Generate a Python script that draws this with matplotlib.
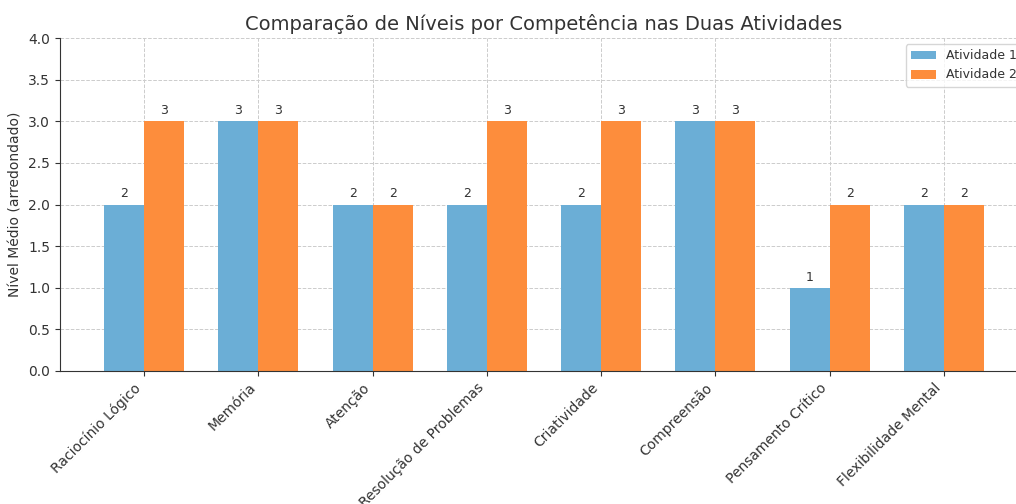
import numpy as np
import matplotlib
matplotlib.use('Agg')
import matplotlib.pyplot as plt

competencias = ['Raciocínio Lógico', 'Memória', 'Atenção', 'Resolução de Problemas',
                'Criatividade', 'Compreensão', 'Pensamento Crítico', 'Flexibilidade Mental']
atividade1 = [2, 3, 2, 2, 2, 3, 1, 2]
atividade2 = [3, 3, 2, 3, 3, 3, 2, 2]

plt.rcParams['text.color'] = '#333333'
plt.rcParams['axes.labelcolor'] = '#333333'
plt.rcParams['xtick.color'] = '#333333'
plt.rcParams['ytick.color'] = '#333333'

fig = plt.figure(figsize=(10.16, 5.04), dpi=100)
ax = fig.add_axes([60/1016, 133/504, 968/1016, 333/504])

x = np.arange(len(competencias))
w = 0.35
b1 = ax.bar(x - w/2, atividade1, w, label='Atividade 1', color='#6baed6')
b2 = ax.bar(x + w/2, atividade2, w, label='Atividade 2', color='#fd8d3c')

for bars in (b1, b2):
    for b in bars:
        ax.text(b.get_x() + b.get_width()/2, b.get_height() + 0.05, str(int(b.get_height())),
                ha='center', va='bottom', fontsize=9)

ax.set_ylim(0, 4)
ax.set_yticks(np.arange(0, 4.01, 0.5))
ax.set_xticks(x)
ax.set_xticklabels(competencias, rotation=45, ha='right', rotation_mode='default', fontsize=10)
ax.tick_params(axis='y', labelsize=10)
ax.set_ylabel('Nível Médio (arredondado)', fontsize=10)
ax.set_title('Comparação de Níveis por Competência nas Duas Atividades', fontsize=14)
ax.grid(True, linestyle='--', color='#cccccc', linewidth=0.7)
ax.set_axisbelow(True)
for s in ['top', 'right']:
    ax.spines[s].set_visible(False)
ax.spines['left'].set_color('#333333')
ax.spines['bottom'].set_color('#333333')
ax.legend(loc='upper right', fontsize=9)

fig.savefig('out.png', dpi=100)
